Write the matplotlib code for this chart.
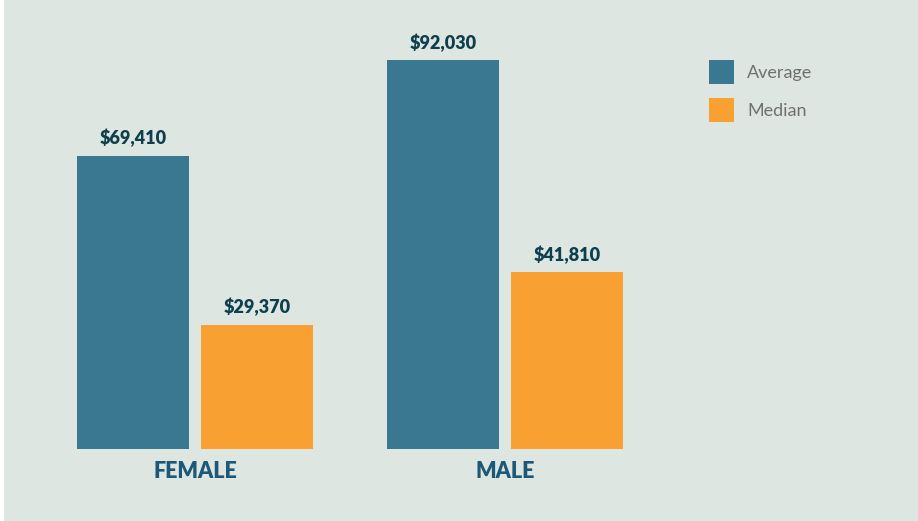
import matplotlib
matplotlib.use("Agg")
import matplotlib.pyplot as plt
from matplotlib.patches import Rectangle
import numpy as np

categories = ["FEMALE", "MALE"]
series_names = ["Average", "Median"]
average = [69410, 92030]
median = [29370, 41810]

BG = "#dde6e1"
C_AVG = "#3a7790"
C_MED = "#f8a031"
C_VAL = "#0f3f4c"
C_CAT = "#1d5878"
C_LEG = "#707070"

W, H = 918, 521
fig = plt.figure(figsize=(W / 100, H / 100), dpi=100, facecolor="white")
fig.patches.append(Rectangle((4 / W, 0), 1 - 4 / W, 1, transform=fig.transFigure,
                             facecolor=BG, edgecolor="none", zorder=-10))

ax = fig.add_axes([77 / W, (H - 449) / H, (623 - 77) / W, (449 - 20) / H])
ax.set_facecolor("none")

x = np.arange(len(categories))
off = 0.2
bw = 112 / 310
b1 = ax.bar(x - off, average, width=bw, color=C_AVG, label=series_names[0])
b2 = ax.bar(x + off, median, width=bw, color=C_MED, label=series_names[1])

ax.set_xlim(-off - bw / 2, 1 + off + bw / 2)
ax.set_ylim(0, 101500)

for bars, vals in ((b1, average), (b2, median)):
    for r, v in zip(bars, vals):
        ax.annotate(f"${v:,}", (r.get_x() + r.get_width() / 2, v),
                    xytext=(0, 6), textcoords="offset points",
                    ha="center", va="bottom", fontsize=13,
                    fontweight="heavy", family="Lato", color=C_VAL)

ax.set_xticks(x)
ax.set_xticklabels(categories, fontsize=15.5, fontweight="heavy", family="Lato", color=C_CAT)
ax.tick_params(axis="x", length=0, pad=9)
ax.set_yticks([])
for s in ax.spines.values():
    s.set_visible(False)

leg = fig.legend(handles=[b1, b2], labels=series_names, loc="upper left",
                 bbox_to_anchor=(709 / W, 1 - 60 / H), frameon=False,
                 borderpad=0, borderaxespad=0, handlelength=1.39, handleheight=1.65,
                 labelspacing=0.80, handletextpad=0.72,
                 prop={"family": "Lato", "size": 13})
for t in leg.get_texts():
    t.set_color(C_LEG)

fig.savefig("out.png", dpi=100, facecolor=fig.get_facecolor())
